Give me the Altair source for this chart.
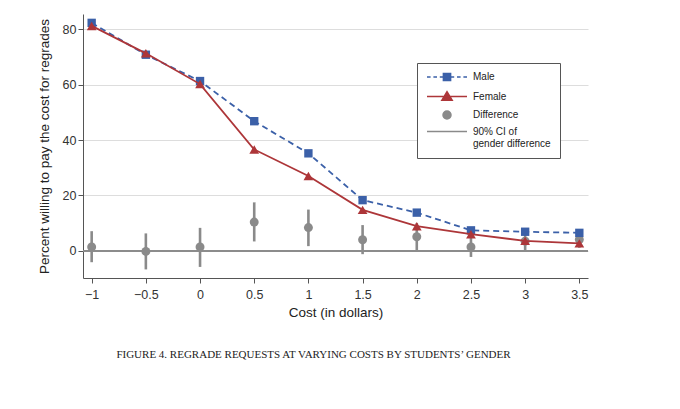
import altair as alt
import pandas as pd

cost = [-1, -0.5, 0, 0.5, 1, 1.5, 2, 2.5, 3, 3.5]
male = [82.3, 70.8, 61.3, 46.8, 35.2, 18.3, 13.8, 7.4, 6.9, 6.5]
female = [81.2, 71.3, 60.2, 36.6, 27.0, 14.8, 8.9, 6.0, 3.6, 2.7]
diff = [1.4, -0.2, 1.4, 10.4, 8.4, 4.0, 5.1, 1.4, 3.5, 4.1]
ci_lo = [-4.1, -6.7, -5.8, 3.4, 1.7, -1.2, 0.2, -2.2, 0.2, 1.1]
ci_hi = [7.1, 6.3, 8.3, 17.5, 14.9, 9.3, 10.0, 5.0, 6.8, 7.1]

x_ticks = [-1, -0.5, 0, 0.5, 1, 1.5, 2, 2.5, 3, 3.5]
y_ticks = [0, 20, 40, 60, 80]

series_names = ["Male", "Female", "Difference", "90% CI of gender difference"]
BLUE = "#3b60a8"
RED = "#ad3639"
GRAY = "#8a8a8a"
series_colors = [BLUE, RED, GRAY, GRAY]

# legend glyphs (custom symbol paths)
male_glyph = ("M-5,0H-4.1M-3.4,0H-2.5M-1.8,0H-0.9M0.9,0H1.8M2.5,0H3.4M4.1,0H5"
              "M-0.9,-0.9H0.9V0.9H-0.9Z")
female_glyph = "M-5,0H5M-1.3,0.95L0,-1.2L1.3,0.95Z"
ci_glyph = "M-5,0H5"
series_shapes = [male_glyph, female_glyph, "circle", ci_glyph]

df = pd.DataFrame({"cost": cost, "male": male, "female": female,
                   "diff": diff, "lo": ci_lo, "hi": ci_hi})
leg_df = pd.DataFrame({"series": series_names, "cost": [0] * 4, "v": [0] * 4})

FONT = "Liberation Sans"

xscale = alt.Scale(domain=[-1.08, 3.58], nice=False, zero=False)
yscale = alt.Scale(domain=[-9.8, 85.5], nice=False, zero=False)

xaxis = alt.Axis(values=x_ticks, format=".1~f", title="Cost (in dollars)",
                 grid=False, tickSize=5, labelPadding=5, titlePadding=5,
                 domainColor="#555555", tickColor="#555555")
yaxis = alt.Axis(values=y_ticks, title="Percent willing to pay the cost for regrades",
                 grid=True, gridColor="#dddddd", tickSize=5, labelPadding=2,
                 titlePadding=11, domainColor="#555555", tickColor="#555555")

base = alt.Chart(df)

zero = alt.Chart(df).mark_rule(color="#8c8c8c", strokeWidth=1.6).encode(
    y=alt.datum(0, scale=yscale))

ci = base.mark_rule(color=GRAY, strokeWidth=2.6).encode(
    x=alt.X("cost:Q", scale=xscale, axis=xaxis),
    y=alt.Y("lo:Q", scale=yscale, axis=yaxis),
    y2="hi:Q")

dots = base.mark_circle(color=GRAY, size=80, opacity=1).encode(
    x="cost:Q", y="diff:Q")

male_line = base.mark_line(color=BLUE, strokeWidth=1.8, strokeDash=[6, 4]).encode(
    x="cost:Q", y="male:Q")
male_pts = base.mark_point(color=BLUE, shape="square", filled=True, size=70,
                           opacity=1).encode(x="cost:Q", y="male:Q")

female_line = base.mark_line(color=RED, strokeWidth=1.8).encode(
    x="cost:Q", y="female:Q")
female_pts = base.mark_point(color=RED, shape="triangle-up", filled=True,
                             size=95, opacity=1).encode(x="cost:Q", y="female:Q")

legend = alt.Legend(
    title=None, orient="none", legendX=334, legendY=49,
    symbolSize=64, symbolOffset=16, labelOffset=21, symbolStrokeWidth=1.5,
    strokeColor="#555555", fillColor="white", padding=9, rowPadding=4.5,
    labelFont=FONT, labelFontSize=10, labelColor="#222222", labelLimit=200,
    labelExpr="datum.label == '90% CI of gender difference' ? ['90% CI of', 'gender difference'] : datum.label",
)
sdom = alt.Scale(domain=series_names, range=series_colors)
leg_layer = alt.Chart(leg_df).transform_filter("false").mark_point(
    filled=True, opacity=1).encode(
    x="cost:Q", y="v:Q",
    fill=alt.Fill("series:N", scale=sdom, legend=legend, sort=series_names),
    stroke=alt.Stroke("series:N", scale=sdom, legend=legend, sort=series_names),
    shape=alt.Shape("series:N", scale=alt.Scale(domain=series_names, range=series_shapes),
                    legend=legend, sort=series_names),
)

chart = alt.layer(ci, zero, dots, male_line, male_pts, female_line, female_pts,
                  leg_layer).properties(
    width=505, height=264,
    autosize=alt.AutoSizeParams(type="none"),
    padding={"left": 75, "top": 6, "right": 80, "bottom": 110},
    title=alt.TitleParams(
        "FIGURE 4.  REGRADE REQUESTS AT VARYING COSTS BY STUDENTS\u2019 GENDER",
        orient="bottom", anchor="middle", dx=-22, offset=30,
        font="Liberation Serif", fontSize=11, fontWeight="normal", color="#222222"),
).configure_view(stroke=None).configure_axis(
    labelFont=FONT, titleFont=FONT, labelFontSize=12.5, titleFontSize=13.5,
    labelColor="#333333", titleColor="#222222", titleFontWeight="normal",
).configure_axisY(labelAngle=0)

chart.save("out.html", embed_options={"renderer": "svg", "actions": False})
